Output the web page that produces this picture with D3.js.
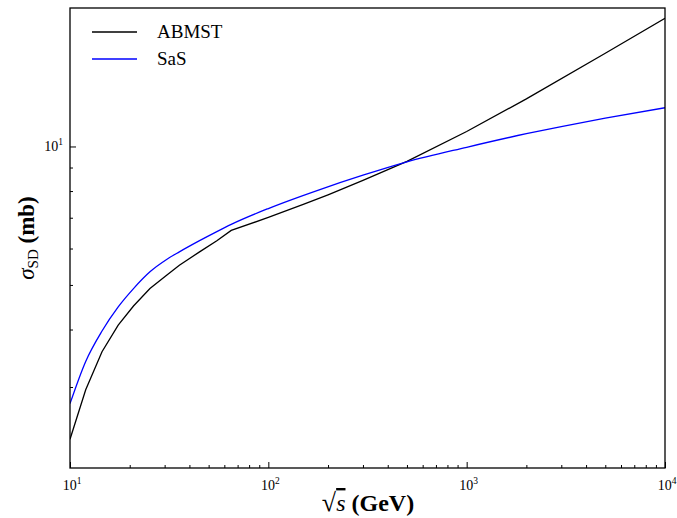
<!DOCTYPE html>
<html>
<head>
<meta charset="utf-8">
<script src="https://cdn.jsdelivr.net/npm/d3@7"></script>
<style>
  html, body { margin: 0; padding: 0; background: #fff; }
  svg { display: block; }
  text { font-family: "Liberation Serif", "DejaVu Serif", serif; fill: #000; }
</style>
</head>
<body>
<svg id="chart" width="677" height="518"></svg>
<script>
// ---- data ----
const energyABMST = [10, 12.0, 14.5, 17.5, 20.9, 25.3, 30.7, 35.6, 45, 55, 65, 100, 150, 200, 300, 500, 1000, 2000, 5000, 10000];
const sigmaABMST  = [2.31, 2.96, 3.58, 4.09, 4.50, 4.91, 5.25, 5.52, 5.90, 6.24, 6.57, 7.01, 7.48, 7.85, 8.44, 9.28, 10.78, 12.69, 15.95, 19.0];
const energySaS   = [10, 12.0, 14.5, 17.5, 20.9, 25.3, 30.7, 35.6, 45, 55, 65, 100, 182, 300, 500, 1000, 2000, 3000, 5000, 10000];
const sigmaSaS    = [2.76, 3.41, 3.97, 4.48, 4.91, 5.34, 5.68, 5.90, 6.24, 6.53, 6.77, 7.33, 8.06, 8.66, 9.26, 9.96, 10.66, 11.05, 11.52, 12.14];
const seriesNames = ["ABMST", "SaS"];
const seriesColors = ["#000000", "#0000ff"];
const xMajorTicks = [10, 100, 1000, 10000];
const xTickExponents = ["1", "2", "3", "4"];
const yMajorTicks = [10];
const yTickExponents = ["1"];

// ---- layout ----
const svg = d3.select("#chart");
const L = 70, R = 665, T = 8, B = 468;
const x = d3.scaleLog().domain([10, 10000]).range([L, R]);
const y = d3.scaleLog().domain([2, 20]).range([B, T]);

// minor ticks
const xMinor = [];
for (let d = 10; d < 10000; d *= 10) for (let k = 2; k <= 9; k++) xMinor.push(d * k);
const yMinor = [3, 4, 5, 6, 7, 8, 9];

// bottom axis: major + minor (inward)
const gx = svg.append("g").attr("transform", `translate(0,${B})`);
gx.call(d3.axisBottom(x).tickValues(xMajorTicks).tickSizeInner(-6).tickSizeOuter(0).tickFormat(""));
const gxm = svg.append("g").attr("transform", `translate(0,${B})`);
gxm.call(d3.axisBottom(x).tickValues(xMinor).tickSizeInner(-3).tickSizeOuter(0).tickFormat(""));
[gx, gxm].forEach(g => { g.select(".domain").remove(); g.selectAll("line").attr("stroke", "#000").attr("stroke-width", 1); });

// left axis
const gy = svg.append("g").attr("transform", `translate(${L},0)`);
gy.call(d3.axisLeft(y).tickValues(yMajorTicks).tickSizeInner(-6).tickSizeOuter(0).tickFormat(""));
const gym = svg.append("g").attr("transform", `translate(${L},0)`);
gym.call(d3.axisLeft(y).tickValues(yMinor).tickSizeInner(-3).tickSizeOuter(0).tickFormat(""));
[gy, gym].forEach(g => { g.select(".domain").remove(); g.selectAll("line").attr("stroke", "#000").attr("stroke-width", 1); });

// tick labels
xMajorTicks.forEach((v, i) => {
  const t = svg.append("text").attr("x", x(v) + 2).attr("y", 490).attr("text-anchor", "middle").attr("font-size", 14);
  t.append("tspan").text("10");
  t.append("tspan").attr("font-size", 9.5).attr("dy", -6).text(xTickExponents[i]);
});
yMajorTicks.forEach((v, i) => {
  const t = svg.append("text").attr("x", 63).attr("y", y(v) + 5).attr("text-anchor", "end").attr("font-size", 14);
  t.append("tspan").text("10");
  t.append("tspan").attr("font-size", 9.5).attr("dy", -6).text(yTickExponents[i]);
});

// curves
const dataABMST = energyABMST.map((e, i) => [e, sigmaABMST[i]]);
const dataSaS = energySaS.map((e, i) => [e, sigmaSaS[i]]);
svg.append("clipPath").attr("id", "clip").append("rect")
  .attr("x", L).attr("y", T).attr("width", R - L).attr("height", B - T);
const plot = svg.append("g").attr("clip-path", "url(#clip)");
plot.append("path").datum(dataABMST)
  .attr("d", d3.line().x(d => x(d[0])).y(d => y(d[1])).curve(d3.curveLinear))
  .attr("fill", "none").attr("stroke", seriesColors[0]).attr("stroke-width", 1.3);
plot.append("path").datum(dataSaS)
  .attr("d", d3.line().x(d => x(d[0])).y(d => y(d[1])).curve(d3.curveMonotoneX))
  .attr("fill", "none").attr("stroke", seriesColors[1]).attr("stroke-width", 1.3);

// frame
svg.append("rect").attr("x", L).attr("y", T).attr("width", R - L).attr("height", B - T)
  .attr("fill", "none").attr("stroke", "#000").attr("stroke-width", 1.3);

// legend
seriesNames.forEach((name, i) => {
  const ly = 32 + i * 27;
  svg.append("line").attr("x1", 92).attr("x2", 137).attr("y1", ly).attr("y2", ly)
    .attr("stroke", seriesColors[i]).attr("stroke-width", 1.3);
  svg.append("text").attr("x", 157).attr("y", ly + 6).attr("font-size", 19).text(name);
});

// axis labels
const xl = svg.append("text").attr("x", 368).attr("y", 511).attr("text-anchor", "middle").attr("font-size", 24);
xl.append("tspan").attr("font-size", 26).text("√");
xl.append("tspan").attr("font-style", "italic").style("text-decoration", "overline").text("s");
xl.append("tspan").attr("font-weight", "bold").text(" (GeV)");

const yl = svg.append("text").attr("transform", `translate(34,${(T + B) / 2}) rotate(-90)`)
  .attr("text-anchor", "middle").attr("font-size", 23);
yl.append("tspan").attr("font-style", "italic").text("σ");
yl.append("tspan").attr("font-size", 15).attr("dy", 4).text("SD");
yl.append("tspan").attr("dy", -4).attr("font-weight", "bold").text(" (mb)");
</script>
</body>
</html>
